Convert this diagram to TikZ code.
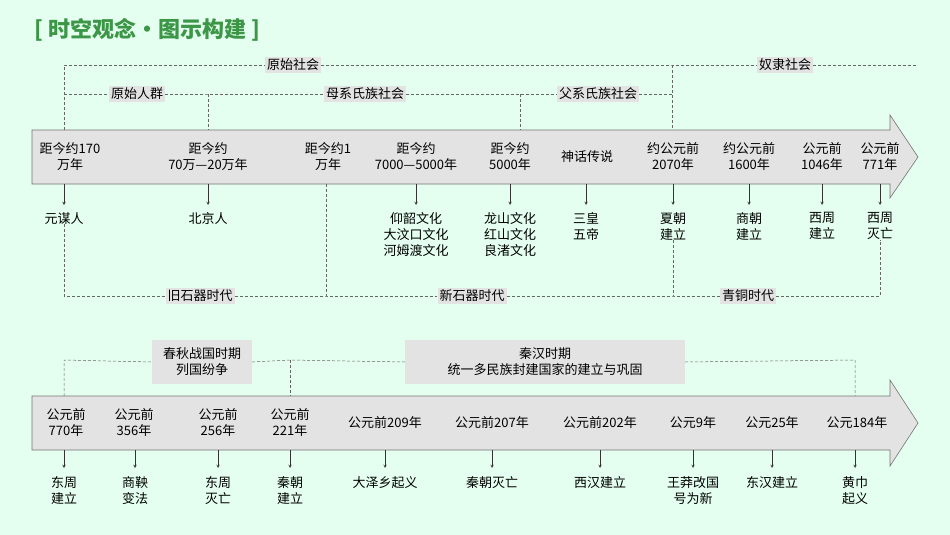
\documentclass[tikz,border=0pt]{standalone}
\usepackage{fontspec}
\setmainfont{Noto Sans CJK SC}
\newfontfamily\cjk{Noto Sans CJK SC}
\begin{document}
\begin{tikzpicture}[x=1pt,y=-1pt,
  lbl/.style={font=\fontsize{13}{16}\selectfont,align=center,inner sep=0pt},
  tag/.style={font=\fontsize{13}{16}\selectfont,align=center,fill=black!11,inner sep=2pt},
  dl/.style={densely dashed,black!60,line width=0.5pt},
  ar/.style={->,>=stealth,line width=0.5pt,black!80},
  bar/.style={fill=black!11,draw=black!55,line width=0.6pt}]
\fill[fill={rgb,255:red,228;green,255;blue,240}] (0,0) rectangle (950,535);
\useasboundingbox (0,0) rectangle (950,535);
\node[anchor=west,font=\fontsize{22}{26}\selectfont\bfseries,text={rgb,255:red,60;green,150;blue,70},inner sep=0] (title) at (34,30) {[ 时空观念•图示构建 ]};
% arrow 1
\draw[bar] (32,130) -- (890,130) -- (890,115) -- (918,157) -- (890,198) -- (890,184) -- (32,184) -- cycle;
\draw[bar] (32,396) -- (890,396) -- (890,380) -- (918,423) -- (890,466) -- (890,450) -- (32,450) -- cycle;
% row1 dates
\foreach \n/\x/\t in {a/70/距今约170\\万年, b/208/距今约\\70万—20万年, c/328/距今约1\\万年, d/416/距今约\\7000—5000年, e/510/距今约\\5000年, f/587/神话传说, g/673/约公元前\\2070年, h/749/约公元前\\1600年, i/822/公元前\\1046年, j/880/公元前\\771年}
  \node[lbl] (d\n) at (\x,157) {\t};
\foreach \n/\x/\t in {a/64/元谋人, b/208/北京人, d/416/仰韶文化\\大汶口文化\\河姆渡文化, e/510/龙山文化\\红山文化\\良渚文化, f/586/三皇\\五帝, g/673/夏朝\\建立, h/749/商朝\\建立, i/822/西周\\建立, j/880/西周\\灭亡}
  {\node[lbl,anchor=north] (e\n) at (\x,212) {\t};
   \coordinate (s\n) at (\x,184);
   \draw[ar] (s\n) -- (\x,205);}
% top dashed
\node[tag] (ys) at (293,65) {原始社会};
\node[tag] (nl) at (785,65) {奴隶社会};
\node[tag] (yr) at (137,94) {原始人群};
\node[tag] (mx) at (365,94) {母系氏族社会};
\node[tag] (fx) at (598,94) {父系氏族社会};
\coordinate (t1) at (64,130); \coordinate (t2) at (208,130); \coordinate (t3) at (520,130); \coordinate (t4) at (672,130);
\draw[dl] (t1) -- (64,65) -- (ys.west);
\draw[dl] (ys.east) -- (672,65) -- (nl.west);
\draw[dl] (nl.east) -- (918,65);
\draw[dl] (672,65) -- (t4);
\draw[dl] (64,94) -- (yr.west);
\draw[dl] (yr.east) -- (208,94) -- (mx.west);
\draw[dl] (208,94) -- (t2);
\draw[dl] (mx.east) -- (520,94) -- (fx.west);
\draw[dl] (520,94) -- (t3);
\draw[dl] (fx.east) -- (672,94);
% bottom dashed
\node[tag] (jsq) at (200,296) {旧石器时代};
\node[tag] (xsq) at (472,296) {新石器时代};
\node[tag] (qt) at (748,296) {青铜时代};
\draw[dl] (ea.south) -- (64,296) -- (jsq.west);
\draw[dl] (jsq.east) -- (326,296) -- (xsq.west);
\draw[dl] (326,184) -- (326,296);
\draw[dl] (xsq.east) -- (673,296) -- (qt.west);
\draw[dl] (eg.south) -- (673,296);
\draw[dl] (qt.east) -- (880,296) -- (ej.south);
% row2
\foreach \n/\x/\t in {a/66/公元前\\770年, b/134/公元前\\356年, c/218/公元前\\256年, d/290/公元前\\221年, e/385/公元前209年, f/492/公元前207年, g/600/公元前202年, h/693/公元9年, i/772/公元25年, j/857/公元184年}
  \node[lbl] (r\n) at (\x,423) {\t};
\foreach \n/\x/\t in {a/64/东周\\建立, b/135/商鞅\\变法, c/218/东周\\灭亡, d/290/秦朝\\建立, e/385/大泽乡起义, f/492/秦朝灭亡, g/600/西汉建立, h/693/王莽改国\\号为新, i/772/东汉建立, j/855/黄巾\\起义}
  {\node[lbl,anchor=north] (q\n) at (\x,476) {\t};
   \coordinate (u\n) at (\x,450);
   \draw[ar] (u\n) -- (\x,468);}
\node[tag,minimum width=100,minimum height=44] (cq) at (202,362) {春秋战国时期\\列国纷争};
\node[tag,minimum width=280,minimum height=44] (qh) at (545,362) {秦汉时期\\统一多民族封建国家的建立与巩固};
\coordinate (v1) at (64,396); \coordinate (v2) at (290,396); \coordinate (v3) at (855,396);
\draw[dl] (v1) -- (64,360) -- (cq.west);
\draw[dl] (cq.east) -- (290,360) -- (qh.west);
\draw[dl] (290,360) -- (v2);
\draw[dl] (qh.east) -- (855,360) -- (v3);
\end{tikzpicture}
\end{document}
